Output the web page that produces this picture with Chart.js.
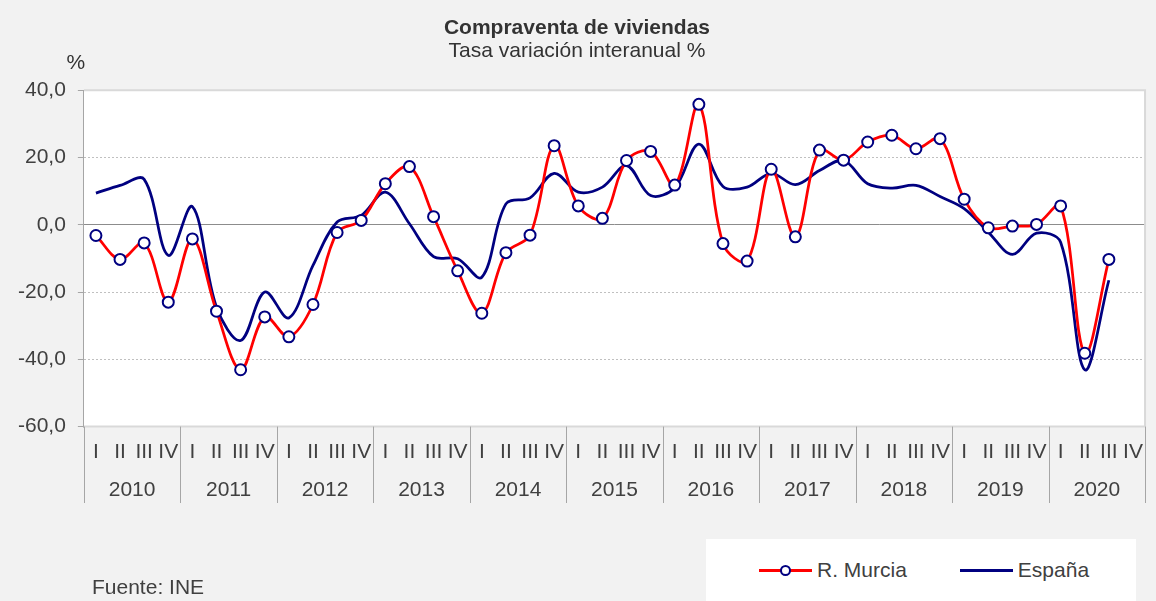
<!DOCTYPE html>
<html>
<head>
<meta charset="utf-8">
<script src="https://cdn.jsdelivr.net/npm/chart.js@4.4.0/dist/chart.umd.min.js"></script>
<style>
  body { margin: 0; background: #f2f2f2; }
  #wrap { position: relative; width: 1156px; height: 601px; background: #f2f2f2;
          font-family: "Liberation Sans", Arial, sans-serif; color: #404040; }
  #chart { position: absolute; left: 0; top: 0; }
  #legend { position: absolute; left: 706px; top: 539px; width: 430px; height: 62px; background: #fff;
            display: flex; align-items: center; padding-left: 53px; box-sizing: border-box; font-size: 21px;
            white-space: nowrap; }
  .item { display: flex; align-items: center; margin-right: 53px; flex-shrink: 0; }
  .mark { position: relative; display: block; width: 53px; height: 11px; margin-right: 5px; flex-shrink: 0; }
  .mark .ln { position: absolute; left: 0; right: 0; top: 4px; height: 3px; }
  .mark .pt { position: absolute; left: 21px; top: 0; width: 7px; height: 7px; border: 2px solid #000080;
              border-radius: 50%; background: #fff; }
  #fuente { position: absolute; left: 92px; top: 574px; font-size: 21px; line-height: 25px; }
</style>
</head>
<body>
<div id="wrap">
  <canvas id="chart" width="1156" height="601"></canvas>
  <div id="legend"></div>
  <div id="fuente">Fuente: INE</div>
</div>
<script>
// trimestres 2010 I - 2020 IV
var years = ['2010', '2011', '2012', '2013', '2014', '2015', '2016', '2017', '2018', '2019', '2020'];
var quarterNames = ['I', 'II', 'III', 'IV'];
var quarters = [];
years.forEach(function () { quarters.push.apply(quarters, quarterNames); });

var murcia = [-3.2, -10.3, -5.4, -23.0, -4.2, -25.7, -43.1, -27.4, -33.3, -23.7, -2.3, 1.3,
              12.2, 17.3, 2.4, -13.7, -26.3, -8.3, -3.1, 23.5, 5.6, 1.9, 19.1, 21.8,
              11.8, 35.8, -5.6, -10.8, 16.5, -3.6, 22.2, 19.2, 24.6, 26.6, 22.6, 25.6,
              7.6, -0.9, -0.4, 0.1, 5.6, -38.2, -10.3, null];
var espana = [9.4, 11.7, 13.5, -9.1, 5.4, -24.5, -34.4, -20.0, -27.7, -12.1, 0.8, 2.8,
              9.7, 0.3, -9.5, -10.1, -15.6, 6.2, 8.0, 15.3, 9.7, 11.2, 17.6, 8.7,
              11.0, 24.0, 11.4, 11.2, 15.3, 11.9, 16.1, 19.1, 12.2, 10.9, 11.7, 8.4,
              4.8, -2.2, -8.8, -2.5, -5.2, -43.1, -16.5, null];

Chart.defaults.font.family = '"Liberation Sans", Arial, sans-serif';
Chart.defaults.color = '#404040';

var framePlugin = {
    id: 'frame',
    beforeDraw: function (chart) {
        var ctx = chart.ctx, a = chart.chartArea;
        ctx.save();
        ctx.fillStyle = '#fff';
        ctx.fillRect(a.left, a.top, a.right - a.left, a.bottom - a.top);
        ctx.restore();
    },
    beforeDatasetsDraw: function (chart) {
        var ctx = chart.ctx, a = chart.chartArea;
        ctx.save();
        ctx.strokeStyle = '#d9d9d9';
        ctx.lineWidth = 2;
        ctx.beginPath();
        ctx.moveTo(a.left, a.top);
        ctx.lineTo(a.right, a.top);
        ctx.lineTo(a.right, a.bottom);
        ctx.lineTo(a.left, a.bottom);
        ctx.stroke();
        ctx.strokeStyle = '#a6a6a6';
        ctx.lineWidth = 1;
        ctx.beginPath();
        ctx.moveTo(Math.round(a.left) - 0.5, a.top);
        ctx.lineTo(Math.round(a.left) - 0.5, a.bottom + 1);
        ctx.stroke();

        // separadores de año bajo el eje
        var xs = chart.scales.x, x2 = chart.scales.x2;
        var step = xs.getPixelForTick(1) - xs.getPixelForTick(0);
        ctx.strokeStyle = '#a6a6a6';
        for (var i = 0; i <= quarters.length; i += 4) {
            var px = xs.getPixelForTick(0) - step / 2 + i * step;
            px = Math.round(px) + 0.5;
            ctx.beginPath();
            ctx.moveTo(px, a.bottom);
            ctx.lineTo(px, x2.bottom);
            ctx.stroke();
        }

        ctx.fillStyle = '#333';
        ctx.font = '21px "Liberation Sans", Arial, sans-serif';
        ctx.textAlign = 'center';
        ctx.textBaseline = 'middle';
        ctx.fillText('%', a.left - 8, 63);
        ctx.restore();
    }
};

var chart = new Chart(document.getElementById('chart'), {
    type: 'line',
    data: {
        labels: quarters,
        datasets: [{
            label: 'R. Murcia',
            data: murcia,
            borderColor: '#ff0000',
            borderWidth: 2.75,
            pointRadius: 5.5,
            pointBorderWidth: 2,
            pointBackgroundColor: '#ffffff',
            pointBorderColor: '#000080',
            tension: 0.35,
            spanGaps: false
        }, {
            label: 'España',
            data: espana,
            borderColor: '#000080',
            borderWidth: 2.75,
            pointRadius: 0,
            tension: 0.35
        }]
    },
    options: {
        responsive: false,
        animation: false,
        events: [],
        layout: { padding: { left: 6, right: 8, top: 0, bottom: 98 } },
        plugins: {
            legend: { display: false },
            tooltip: { enabled: false },
            title: {
                display: true,
                text: 'Compraventa de viviendas',
                color: '#333',
                font: { size: 21, weight: 'bold', lineHeight: 1.1 },
                padding: { top: 17, bottom: 0 }
            },
            subtitle: {
                display: true,
                text: 'Tasa variación interanual %',
                color: '#333',
                font: { size: 21, lineHeight: 1.1 },
                padding: { top: 0, bottom: 27 }
            }
        },
        scales: {
            x: {
                offset: true,
                grid: { display: false, drawTicks: false },
                border: { display: false },
                ticks: { autoSkip: false, maxRotation: 0, font: { size: 21 }, padding: 13 }
            },
            x2: {
                type: 'category',
                labels: years,
                position: 'bottom',
                offset: true,
                grid: { display: false, drawTicks: false },
                border: { display: false },
                ticks: { autoSkip: false, maxRotation: 0, font: { size: 21 }, padding: 0 }
            },
            y: {
                min: -60,
                max: 40,
                ticks: {
                    stepSize: 20,
                    font: { size: 21 },
                    padding: 12,
                    callback: function (v) { return v.toFixed(1).replace('.', ','); }
                },
                grid: {
                    color: function (c) { return c.tick && c.tick.value === 0 ? '#8c8c8c' : '#c0c0c0'; },
                    tickColor: '#a6a6a6',
                    tickLength: 6
                },
                border: {
                    display: false,
                    dash: function (c) { return c.tick && c.tick.value !== 0 ? [2, 2] : []; }
                }
            }
        }
    },
    plugins: [framePlugin]
});

// leyenda HTML a partir de los datasets
var legendEl = document.getElementById('legend');
chart.data.datasets.forEach(function (ds) {
    var item = document.createElement('div');
    item.className = 'item';
    var mark = document.createElement('span');
    mark.className = 'mark';
    var ln = document.createElement('span');
    ln.className = 'ln';
    ln.style.background = ds.borderColor;
    mark.appendChild(ln);
    if (ds.pointRadius > 0) {
        var pt = document.createElement('span');
        pt.className = 'pt';
        pt.style.borderColor = ds.pointBorderColor;
        mark.appendChild(pt);
    }
    var txt = document.createElement('span');
    txt.textContent = ds.label;
    item.appendChild(mark);
    item.appendChild(txt);
    legendEl.appendChild(item);
});
</script>
</body>
</html>
